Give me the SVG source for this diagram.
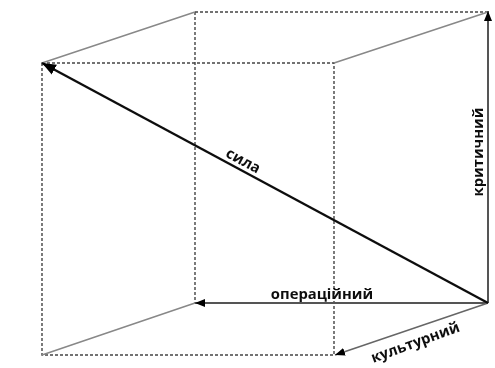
<svg xmlns="http://www.w3.org/2000/svg" width="495" height="368" viewBox="0 0 495 368">
<style>
.d{stroke:#444;stroke-width:1.4;stroke-dasharray:3 2;fill:none}
.g{stroke:#888;stroke-width:1.5;fill:none}
.a{stroke:#555;stroke-width:2;fill:none}
.t{font-family:"Open Sans","Liberation Sans",sans-serif;font-weight:700;font-size:14.8px;fill:#111;text-anchor:middle}
</style>
<defs>
<marker id="big" markerUnits="userSpaceOnUse" markerWidth="15" markerHeight="12" refX="14" refY="6" orient="auto"><path d="M0 .5L14 6L0 11.5Z" fill="#000"/></marker>
<marker id="sm" markerUnits="userSpaceOnUse" markerWidth="11" markerHeight="8" refX="10" refY="4" orient="auto"><path d="M0 0L10 4L0 8Z" fill="#000"/></marker>
<filter id="soft" x="0" y="0" width="495" height="368" filterUnits="userSpaceOnUse"><feGaussianBlur stdDeviation="0.45"/></filter>
</defs>
<rect width="495" height="368" fill="#fff"/>
<g filter="url(#soft)">
<g id="connectors">
<path class="d" d="M42 63H334V355H42Z"/>
<path class="d" d="M195 12H488M195 12V303"/>
<path class="g" d="M42 63L195 12M334 63L488 12M42 355L195 303"/>
<path class="a" d="M488 303V11" marker-end="url(#sm)"/>
<path class="a" d="M488 303H195" marker-end="url(#sm)"/>
<path class="g" d="M488 303L335 355" marker-end="url(#sm)" style="stroke:#666"/>
<path d="M488 303L42 63" stroke="#111" stroke-width="2.4" fill="none" marker-end="url(#big)"/>
</g>
<g id="label-syla"><text class="t" transform="translate(241 165) rotate(28)">сила</text></g>
<g id="label-krytychnyi"><text class="t" transform="translate(483 152) rotate(-90)">критичний</text></g>
<g id="label-operatsiinyi"><text class="t" x="322" y="299">операційний</text></g>
<g id="label-kulturnyi"><text class="t" transform="translate(417 347) rotate(-20)">культурний</text></g>
</g>
</svg>
